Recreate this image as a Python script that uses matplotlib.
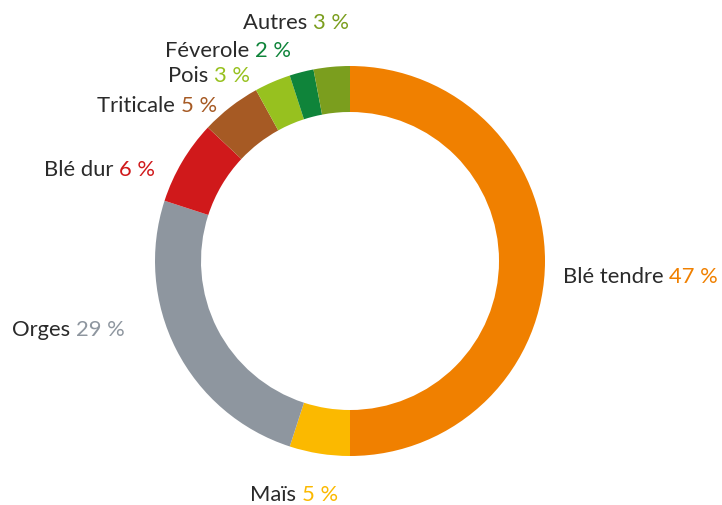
import matplotlib.pyplot as plt

# wedge sizes read from the ring, printed shares from the labels
names = ['Blé tendre', 'Maïs', 'Orges', 'Blé dur', 'Triticale', 'Pois', 'Féverole', 'Autres']
shares = [50, 5, 25, 7, 5, 3, 2, 3]
pct_labels = ['47 %', '5 %', '29 %', '6 %', '5 %', '3 %', '2 %', '3 %']
colors = ['#F08000', '#FBB900', '#8E969F', '#D0191B', '#A65A24', '#97C11F', '#0F843A', '#7B9E1E']

# label anchor (pixels from top-left) and alignment
label_pos = [(563, 277, 'left'), (250, 495, 'left'), (12, 330, 'left'), (155, 170, 'right'),
             (217, 106, 'right'), (250, 76, 'right'), (291, 51, 'right'), (349, 23, 'right')]

W, H = 722, 506
fig = plt.figure(figsize=(W / 100, H / 100), dpi=100)
ax = fig.add_axes([0, 0, 1, 1])
ax.set_xlim(0, W)
ax.set_ylim(0, H)
ax.set_aspect('equal')
ax.axis('off')

ax.pie(shares, colors=colors, startangle=90, counterclock=False,
       center=(350, H - 262), radius=195,
       wedgeprops=dict(width=46, edgecolor='none'))
ax.set_xlim(0, W)
ax.set_ylim(0, H)

plt.rcParams['font.family'] = ['Lato', 'DejaVu Sans']
fs = 15.8
r = fig.canvas.get_renderer()
inv = ax.transData.inverted()

for name, pct, col, (x, y, ha) in zip(names, pct_labels, colors, label_pos):
    y = H - y
    if ha == 'left':
        t = ax.text(x, y, name + ' ', fontsize=fs, color='#2a2a2a', ha='left', va='center')
        bb = t.get_window_extent(r)
        x2 = inv.transform((bb.x1, 0))[0]
        ax.text(x2, y, pct, fontsize=fs, color=col, ha='left', va='center')
    else:
        t = ax.text(x, y, pct, fontsize=fs, color=col, ha='right', va='center')
        bb = t.get_window_extent(r)
        x2 = inv.transform((bb.x0, 0))[0]
        ax.text(x2, y, name + ' ', fontsize=fs, color='#2a2a2a', ha='right', va='center')

plt.savefig('out.png', dpi=100)
